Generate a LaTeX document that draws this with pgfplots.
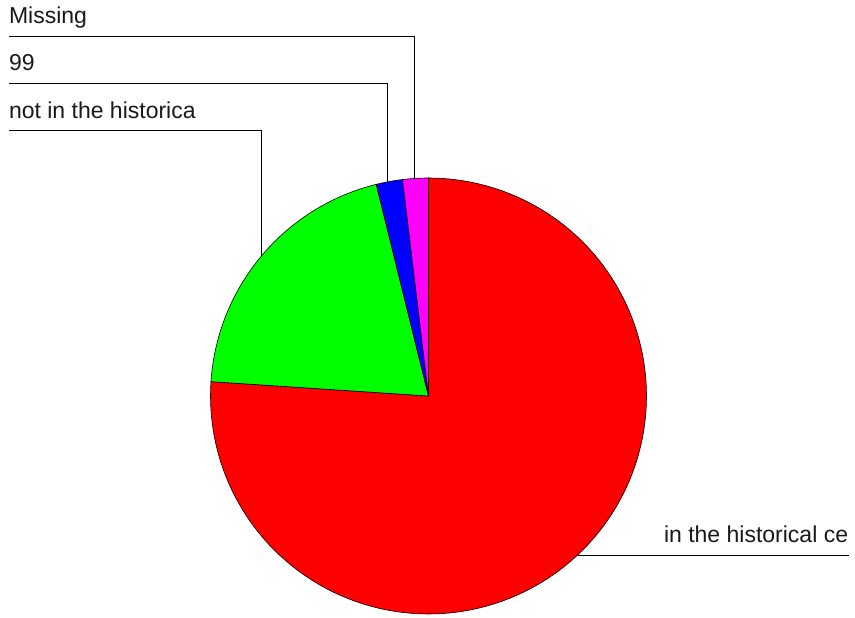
\documentclass[border=0pt]{standalone}
\usepackage{pgfplots}
\usepackage{pgfplotstable}
\pgfplotsset{compat=1.18}
\usepackage{fontspec}
\setmainfont{Liberation Sans}
\pgfplotstableread{
value
76.05
20.1
1.95
1.9
}\piedata
\pgfplotstablegetelem{0}{value}\of\piedata \let\vA\pgfplotsretval
\pgfplotstablegetelem{1}{value}\of\piedata \let\vB\pgfplotsretval
\pgfplotstablegetelem{2}{value}\of\piedata \let\vC\pgfplotsretval
\pgfplotstablegetelem{3}{value}\of\piedata \let\vD\pgfplotsretval
\pgfmathsetmacro{\aA}{90}
\pgfmathsetmacro{\aB}{\aA-3.6*\vA}
\pgfmathsetmacro{\aC}{\aB-3.6*\vB}
\pgfmathsetmacro{\aD}{\aC-3.6*\vC}
\pgfmathsetmacro{\aE}{\aD-3.6*\vD}
\tikzset{lbl/.style={font=\fontsize{23bp}{27bp}\selectfont, inner sep=0pt, outer sep=0pt, anchor=base west, text=black!90}}
\begin{document}
\begin{tikzpicture}
\useasboundingbox (0,0) rectangle (855bp,618bp);
\begin{axis}[
  at={(428.5bp,222bp)}, anchor=center,
  scale only axis, width=436bp, height=436bp,
  xmin=-1, xmax=1, ymin=-1, ymax=1,
  hide axis, clip=false,
]
\addplot[fill={rgb,255:red,255;green,0;blue,0}, draw=black, line width=0.6bp, domain=\aB:\aA, samples=150, variable=\t] ({cos(\t)},{sin(\t)}) -- (axis cs:0,0) -- cycle;
\addplot[fill={rgb,255:red,0;green,255;blue,0}, draw=black, line width=0.6bp, domain=\aC:\aB, samples=60, variable=\t] ({cos(\t)},{sin(\t)}) -- (axis cs:0,0) -- cycle;
\addplot[fill={rgb,255:red,0;green,0;blue,255}, draw=black, line width=0.6bp, domain=\aD:\aC, samples=10, variable=\t] ({cos(\t)},{sin(\t)}) -- (axis cs:0,0) -- cycle;
\addplot[fill={rgb,255:red,255;green,0;blue,255}, draw=black, line width=0.6bp, domain=\aE:\aD, samples=10, variable=\t] ({cos(\t)},{sin(\t)}) -- (axis cs:0,0) -- cycle;
% leader lines
\addplot[black, line width=0.8bp, mark=none] coordinates {(-1.9243,1.6491) (-0.0665,1.6491) (-0.0665,0.9977)};
\addplot[black, line width=0.8bp, mark=none] coordinates {(-1.9243,1.4358) (-0.1881,1.4358) (-0.1881,0.9822)};
\addplot[black, line width=0.8bp, mark=none] coordinates {(-1.9243,1.2170) (-0.7670,1.2170) (-0.7670,0.6417)};
\addplot[black, line width=0.8bp, mark=none] coordinates {(0.6835,-0.7317) (1.9289,-0.7317)};
\node[lbl] at (axis cs:-1.9243,1.7064) {Missing};
\node[lbl] at (axis cs:-1.9243,1.4931) {99};
\node[lbl] at (axis cs:-1.9243,1.2743) {not in the historica};
\node[lbl] at (axis cs:1.0803,-0.6743) {in the historical ce};
\end{axis}
\end{tikzpicture}
\end{document}
